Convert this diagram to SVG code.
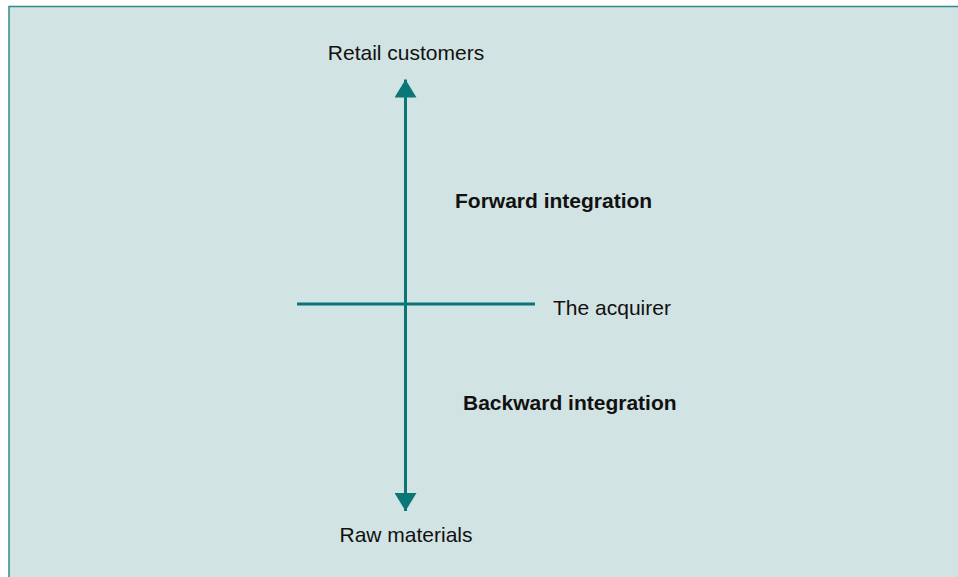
<svg xmlns="http://www.w3.org/2000/svg" width="958" height="577" viewBox="0 0 958 577">
<style>
.lbl{font-family:"Liberation Sans",Arial,sans-serif;font-size:21px;fill:#111}
.b{font-weight:bold}
.ln{stroke:#0a7676;stroke-width:3;fill:none}
</style>
<defs>
<marker id="ah" viewBox="0 0 18 22" refX="18" refY="11" markerWidth="18" markerHeight="22" markerUnits="userSpaceOnUse" orient="auto">
<path d="M0,0 L18,11 L0,22 Z" fill="#0a7676"/>
</marker>
</defs>
<rect x="0" y="0" width="958" height="577" fill="#ffffff"/>
<rect x="9" y="6.5" width="960" height="580" fill="#d1e3e3" stroke="#2f8a8a" stroke-width="1.5"/>
<g id="connectors">
<line class="ln" x1="405.5" y1="300" x2="405.5" y2="79.5" marker-end="url(#ah)"/>
<line class="ln" x1="405.5" y1="300" x2="405.5" y2="511" marker-end="url(#ah)"/>
<line class="ln" x1="297" y1="304" x2="535" y2="304"/>
</g>
<g id="retail"><text class="lbl" x="406" y="60" text-anchor="middle">Retail customers</text></g>
<g id="forward"><text class="lbl b" x="455" y="208">Forward integration</text></g>
<g id="acquirer"><text class="lbl" x="553" y="315">The acquirer</text></g>
<g id="backward"><text class="lbl b" x="463" y="410">Backward integration</text></g>
<g id="raw"><text class="lbl" x="406" y="542" text-anchor="middle">Raw materials</text></g>
</svg>
